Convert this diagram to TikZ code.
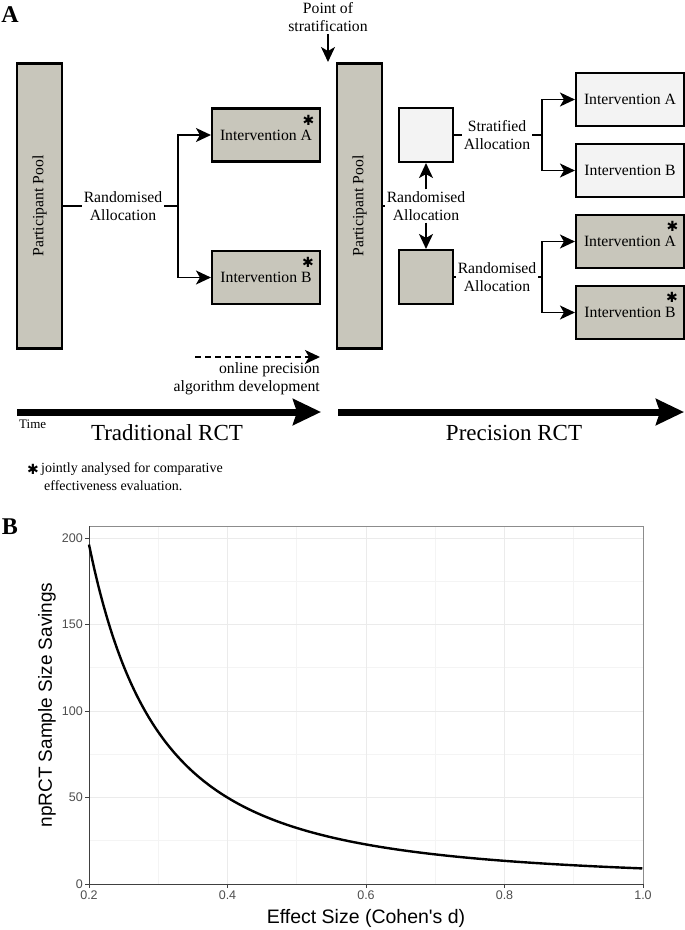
\documentclass[tikz,border=0pt]{standalone}
\usepackage{fontspec}
\setmainfont{Liberation Serif}
\newfontfamily\plotfont{Liberation Sans}
\newfontfamily\symfont{DejaVu Sans}
\usepackage{xcolor}
\usepackage{tikz}
\usetikzlibrary{positioning,arrows.meta,calc}
\definecolor{boxgray}{HTML}{C8C6BB}
\definecolor{boxlight}{HTML}{F3F3F3}
\definecolor{gridmajor}{HTML}{EBEBEB}
\definecolor{gridminor}{HTML}{F4F4F4}
\definecolor{ticktext}{HTML}{4D4D4D}
\newcommand{\boxfont}{\fontsize{15.7}{18}\selectfont}
\newcommand{\jstar}{\rlap{\kern-0.6em\smash{\raisebox{0.95em}{\symfont\fontsize{14}{14}\selectfont ✱}}}}

\begin{document}
\begin{tikzpicture}[x=1pt,y=-1pt,
  every node/.style={font=\boxfont},
  graybox/.style={draw, line width=2.1pt, fill=boxgray, minimum width=108pt, minimum height=53pt, inner sep=0pt},
  lightbox/.style={graybox, fill=boxlight},
  poolbox/.style={graybox, rotate=90, minimum width=285pt, minimum height=45pt},
  sqbox/.style={minimum width=54pt, minimum height=54pt},
  lbl/.style={align=center, inner sep=2pt},
  link/.style={line width=1.7pt},
  conn/.style={link, -{Stealth[length=15pt,width=14pt,inset=4pt]}},
  timearrow/.style={line width=7pt, -{Stealth[length=28pt,width=26pt,inset=4pt]}},
  gridmaj/.style={gridmajor, line width=1pt},
  gridmin/.style={gridminor, line width=0.6pt},
  axisline/.style={black!75, line width=0.9pt},
  ticklbl/.style={font=\plotfont\fontsize{12.5}{14}\selectfont, text=ticktext, inner sep=0pt}]

\useasboundingbox (0,0) rectangle (685,930);

% panel letters
\node[font=\fontsize{24}{24}\selectfont\bfseries] (panelA) at (10,15) {A};
\node[font=\fontsize{24}{24}\selectfont\bfseries] (panelB) at (10,527) {B};

% traditional RCT
\node[poolbox] (poolL) at (39.5,206) {Participant Pool};
\node[lbl] (allocL) at (123,206) {Randomised\\Allocation};
\coordinate (forkL) at (178,206);
\node[graybox] (intAL) at (266,135) {Intervention A\jstar};
\node[graybox] (intBL) at (266,277.5) {Intervention B\jstar};
\draw[link] (poolL.south) -- (allocL.west);
\draw[link] (allocL.east) -- (forkL);
\draw[conn] (forkL) |- (intAL.west);
\draw[conn] (forkL) |- (intBL.west);

% online algorithm development
\coordinate (devstart) at (195,357);
\coordinate (devend) at (320,357);
\draw[conn, dash pattern=on 6pt off 4pt] (devstart) -- (devend);
\node[align=right, anchor=north east, inner sep=0pt] (devnote) at (320,362) {online precision\\algorithm development};

% point of stratification
\node[lbl] (stratnote) at (328,17) {Point of\\stratification};
\coordinate (strattip) at (328,62);
\draw[conn] (stratnote.south) -- (strattip);

% precision RCT
\node[poolbox] (poolR) at (359.5,206) {Participant Pool};
\node[lbl] (allocM) at (426,206) {Randomised\\Allocation};
\node[lightbox, sqbox] (sqTop) at (426,135) {};
\node[graybox, sqbox] (sqBot) at (426,277) {};
\draw[link] (poolR.south) -- (allocM.west);
\draw[conn] (allocM.north) -- (sqTop.south);
\draw[conn] (allocM.south) -- (sqBot.north);

\node[lbl] (stratA) at (497,135) {Stratified\\Allocation};
\coordinate (forkS) at (542,135);
\node[lightbox] (intAS) at (630,99.5) {Intervention A};
\node[lightbox] (intBS) at (630,170.5) {Intervention B};
\draw[link] (sqTop.east) -- (stratA.west);
\draw[link] (stratA.east) -- (forkS);
\draw[conn] (forkS) |- (intAS.west);
\draw[conn] (forkS) |- (intBS.west);

\node[lbl] (allocR) at (497,277) {Randomised\\Allocation};
\coordinate (forkR) at (542,277);
\node[graybox] (intAR) at (630,241.5) {Intervention A\jstar};
\node[graybox] (intBR) at (630,312.5) {Intervention B\jstar};
\draw[link] (sqBot.east) -- (allocR.west);
\draw[link] (allocR.east) -- (forkR);
\draw[conn] (forkR) |- (intAR.west);
\draw[conn] (forkR) |- (intBR.west);

% time arrows
\coordinate (timeL0) at (17,412);
\coordinate (timeL1) at (321,412);
\coordinate (timeR0) at (338,412);
\coordinate (timeR1) at (684,412);
\draw[timearrow] (timeL0) -- (timeL1);
\draw[timearrow] (timeR0) -- (timeR1);
\node[font=\fontsize{13}{14}\selectfont, anchor=west, inner sep=0pt] (timelbl) at (19,424) {Time};
\node[font=\fontsize{23}{26}\selectfont] (tradlbl) at (167,433) {Traditional RCT};
\node[font=\fontsize{23}{26}\selectfont] (preclbl) at (514,433) {Precision RCT};

% footnote
\node[font=\symfont\fontsize{14}{14}\selectfont, inner sep=0pt] (fnstar) at (33,469) {✱};
\node[anchor=west, align=left, inner sep=0pt, font=\fontsize{14}{18}\selectfont] (fntext) at (41,477) {jointly analysed for comparative\\\hspace{3pt}effectiveness evaluation.};

% panel B: grid
\foreach \v in {25,75,125,175}
  \draw[gridmin] (89,{884-1.73*\v}) -- (643,{884-1.73*\v});
\foreach \d in {0.3,0.5,0.7,0.9}
  \draw[gridmin] ({89+(\d-0.2)*692.5},526) -- ({89+(\d-0.2)*692.5},884);
\foreach \v in {0,50,100,150,200}
  \draw[gridmaj] (89,{884-1.73*\v}) -- (643,{884-1.73*\v});
\foreach \d in {0.2,0.4,0.6,0.8,1.0}
  \draw[gridmaj] ({89+(\d-0.2)*692.5},526) -- ({89+(\d-0.2)*692.5},884);

% panel B: frame and axes
\draw[black!45, line width=0.8pt] (89,526) -- (643,526) -- (643,884);
\draw[axisline] (89,526) -- (89,884) -- (643,884);
\foreach \v in {0,50,100,150,200} {
  \draw[axisline] (85,{884-1.73*\v}) -- (89,{884-1.73*\v});
  \node[ticklbl, anchor=east] (ytick\v) at (83,{884-1.73*\v}) {\v};
}
\foreach \d/\n in {0.2/a,0.4/b,0.6/c,0.8/d,1.0/e} {
  \draw[axisline] ({89+(\d-0.2)*692.5},884) -- ({89+(\d-0.2)*692.5},888);
  \node[ticklbl, anchor=north] (xtick\n) at ({89+(\d-0.2)*692.5},891) {\d};
}

% panel B: savings curve
\draw[line width=2.4pt, line join=round] plot[domain=0.2:1, samples=120, smooth]
  ({89+(\x-0.2)*692.5},{884-1.73*(7.8/(\x*\x)+1.2)});

\node[font=\plotfont\fontsize{19.5}{21}\selectfont] (xtitle) at (366,918) {Effect Size (Cohen's d)};
\node[font=\plotfont\fontsize{19}{21}\selectfont, rotate=90] (ytitle) at (47,705) {npRCT Sample Size Savings};

\end{tikzpicture}
\end{document}
